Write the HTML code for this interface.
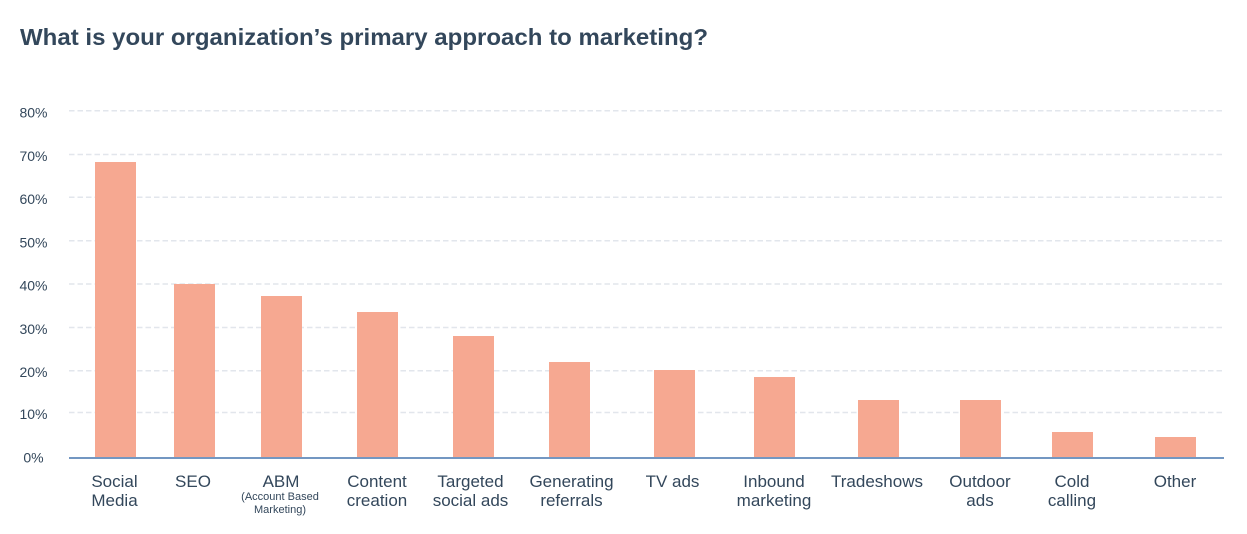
<!DOCTYPE html>
<html><head><meta charset="utf-8"><style>
html,body{margin:0;padding:0;background:#fff;}
svg{display:block;}
text{font-family:"Liberation Sans",sans-serif;fill:#33475b;}
</style></head><body>
<svg width="1247" height="534" viewBox="0 0 1247 534" xmlns="http://www.w3.org/2000/svg">
<rect width="1247" height="534" fill="#fff"/>
<text x="20" y="45" font-size="23" font-weight="bold" textLength="688" lengthAdjust="spacingAndGlyphs" fill="#33475b">What is your organization’s primary approach to marketing?</text>
<g stroke="#e2e6ec" stroke-width="1.5" stroke-dasharray="5.5 3">
<line x1="69" y1="110.7" x2="1224" y2="110.7"/>
<line x1="69" y1="154.5" x2="1224" y2="154.5"/>
<line x1="69" y1="197.2" x2="1224" y2="197.2"/>
<line x1="69" y1="240.7" x2="1224" y2="240.7"/>
<line x1="69" y1="284" x2="1224" y2="284"/>
<line x1="69" y1="327.5" x2="1224" y2="327.5"/>
<line x1="69" y1="370.8" x2="1224" y2="370.8"/>
<line x1="69" y1="412.5" x2="1224" y2="412.5"/>
</g>
<g font-size="14" text-anchor="middle" dominant-baseline="central">
<text x="33.5" y="112.5">80%</text>
<text x="33.5" y="156">70%</text>
<text x="33.5" y="199">60%</text>
<text x="33.5" y="242.5">50%</text>
<text x="33.5" y="285.5">40%</text>
<text x="33.5" y="329">30%</text>
<text x="33.5" y="372">20%</text>
<text x="33.5" y="414">10%</text>
<text x="33.5" y="457.5">0%</text>
</g>
<g fill="#f6a891">
<rect x="95" y="162" width="41" height="296"/>
<rect x="174" y="284" width="41" height="174"/>
<rect x="261" y="296" width="41" height="162"/>
<rect x="357" y="312" width="41" height="146"/>
<rect x="453" y="336" width="41" height="122"/>
<rect x="549" y="362" width="41" height="96"/>
<rect x="654" y="370" width="41" height="88"/>
<rect x="754" y="377" width="41" height="81"/>
<rect x="858" y="400" width="41" height="58"/>
<rect x="960" y="400" width="41" height="58"/>
<rect x="1052" y="432" width="41" height="26"/>
<rect x="1155" y="437" width="41" height="21"/>
</g>
<line x1="69" y1="458" x2="1224" y2="458" stroke="#7397c2" stroke-width="2"/>
<g font-size="17" text-anchor="middle">
<text x="114.5" y="487">Social</text><text x="114.5" y="506">Media</text>
<text x="193" y="487">SEO</text>
<text x="281" y="487">ABM</text>
<text x="377" y="487">Content</text><text x="377" y="506">creation</text>
<text x="470.5" y="487">Targeted</text><text x="470.5" y="506">social ads</text>
<text x="571.5" y="487">Generating</text><text x="571.5" y="506">referrals</text>
<text x="672.5" y="487">TV ads</text>
<text x="774" y="487">Inbound</text><text x="774" y="506">marketing</text>
<text x="877" y="487">Tradeshows</text>
<text x="980" y="487">Outdoor</text><text x="980" y="506">ads</text>
<text x="1072" y="487">Cold</text><text x="1072" y="506">calling</text>
<text x="1175" y="487">Other</text>
</g>
<g font-size="11" text-anchor="middle">
<text x="280" y="500">(Account Based</text>
<text x="280" y="513">Marketing)</text>
</g>
</svg>
</body></html>
